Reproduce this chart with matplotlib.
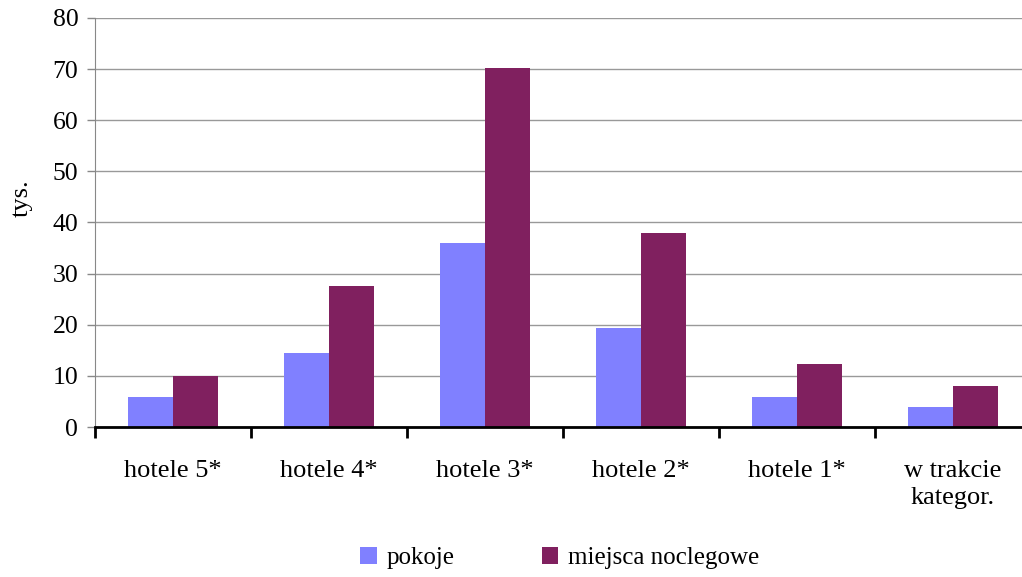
import numpy as np
import matplotlib.pyplot as plt
from matplotlib.ticker import MultipleLocator, FixedLocator, NullFormatter

plt.rcParams['font.family'] = ['Liberation Serif', 'DejaVu Serif']

categories = ['hotele 5*', 'hotele 4*', 'hotele 3*', 'hotele 2*', 'hotele 1*', 'w trakcie\nkategor.']
pokoje = [5.9, 14.5, 36.0, 19.3, 5.9, 3.9]
miejsca = [10.0, 27.6, 70.3, 38.0, 12.3, 8.0]

fig = plt.figure(figsize=(10.22, 5.77), dpi=100)
ax = fig.add_axes([95 / 1022, 1 - 427 / 577, 936 / 1022, 409 / 577])

x = np.arange(len(categories))
w = 0.29
ax.bar(x - w / 2, pokoje, w, color='#8080FF', label='pokoje', zorder=3)
ax.bar(x + w / 2, miejsca, w, color='#80205F', label='miejsca noclegowe', zorder=3)

ax.set_xlim(-0.5, len(categories) - 0.5)
ax.set_ylim(0, 80)
ax.yaxis.set_major_locator(MultipleLocator(10))
ax.grid(axis='y', color='#999999', linewidth=1, zorder=0)

ax.set_xticks(x)
ax.set_xticklabels(categories, fontsize=19, linespacing=1.3)
ax.xaxis.set_minor_locator(FixedLocator(np.arange(-0.5, len(categories), 1)))
ax.xaxis.set_minor_formatter(NullFormatter())
ax.tick_params(axis='x', which='major', length=0, pad=24)
ax.tick_params(axis='x', which='minor', length=8, width=2, color='black', direction='out')
ax.tick_params(axis='y', labelsize=18.5, length=6, width=1, color='#888888', pad=6)

for s in ['top', 'right']:
    ax.spines[s].set_visible(False)
ax.spines['left'].set_color('#888888')
ax.spines['bottom'].set_color('black')
ax.spines['bottom'].set_linewidth(2)
ax.spines['bottom'].set_zorder(4)

fig.text(22 / 1022, 1 - 198 / 577, 'tys.', rotation=90, fontsize=19, va='center', ha='center')

fig.legend(loc='center', bbox_to_anchor=(560 / 1022, 1 - 558 / 577), ncol=2, frameon=False,
           fontsize=18, handlelength=0.65, handleheight=0.65, handletextpad=0.4, columnspacing=3.5)

fig.savefig('out.png', dpi=100)
